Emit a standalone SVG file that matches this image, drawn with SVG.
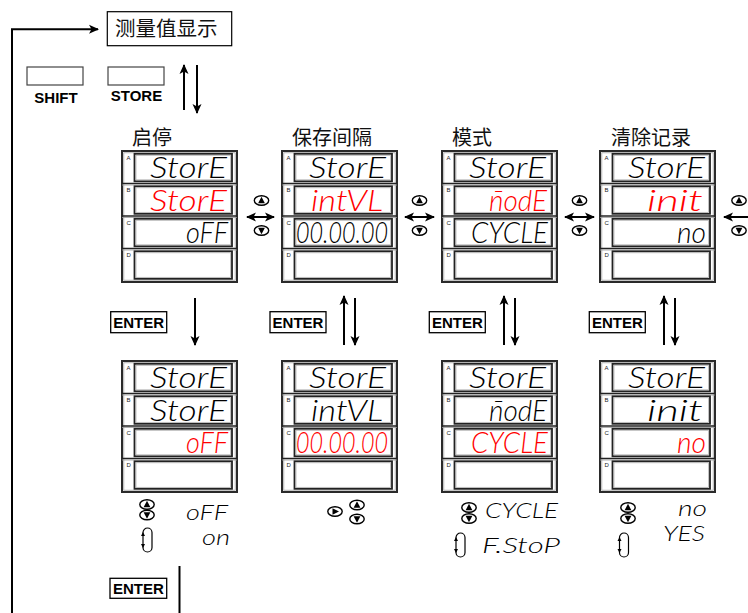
<svg xmlns="http://www.w3.org/2000/svg" xmlns:xlink="http://www.w3.org/1999/xlink" width="748" height="613" viewBox="0 0 748 613">
<style>
.panel{fill:#fff;stroke:#2a2a2a;stroke-width:2}
.pin{fill:none;stroke:#a0a0a0;stroke-width:0.8}
.cell{fill:#fff;stroke:#222;stroke-width:1.8}
.cin{fill:none;stroke:#aaa;stroke-width:0.7}
.sep{stroke:#222;stroke-width:1.6}
.sepg{stroke:#999;stroke-width:0.8}
.lbl{font-family:"Liberation Sans",Arial,sans-serif;font-size:6px;fill:#222}
.seg{font-family:Lato,"DejaVu Sans",sans-serif;font-style:italic;font-weight:300;font-size:29px;text-anchor:end}
.segs{font-family:Lato,"DejaVu Sans",sans-serif;font-style:italic;font-weight:300;font-size:22px}
.red{fill:#ff0000}
.blk{fill:#000}
.title{font-family:"Noto Sans CJK SC",sans-serif;font-size:20px;fill:#111}
.key{font-family:"Liberation Sans",Arial,sans-serif;font-weight:bold;font-size:15px;fill:#000;text-anchor:middle}
.btn{font-family:"Liberation Sans",Arial,sans-serif;font-weight:bold;font-size:15px;fill:#000;text-anchor:middle}
.kbox{fill:#fff;stroke:#000;stroke-width:1.3}
.bbox{fill:#fff;stroke:#444;stroke-width:1.2}
.conn{stroke:#000;stroke-width:2;fill:none}
.sym{fill:#fff;stroke:#000;stroke-width:1.4}
.loop{fill:none;stroke:#000;stroke-width:1.2}
</style>
<defs>
<marker id="ah" viewBox="0 0 10 10" refX="9" refY="5" markerWidth="5" markerHeight="5" orient="auto-start-reverse" markerUnits="strokeWidth">
<path d="M0,0.5 L10,5 L0,9.5 L2.5,5 z" fill="#000"/>
</marker>
<g id="frame">
<rect x="0" y="0" width="115" height="131" class="panel"/>
<rect x="1.8" y="1.8" width="111.4" height="127.4" class="pin"/>
<line x1="0" y1="32.5" x2="115" y2="32.5" class="sep"/>
<line x1="0" y1="34" x2="115" y2="34" class="sepg"/>
<line x1="0" y1="65" x2="115" y2="65" class="sep"/>
<line x1="0" y1="66.5" x2="115" y2="66.5" class="sepg"/>
<line x1="0" y1="97.5" x2="115" y2="97.5" class="sep"/>
<line x1="0" y1="99" x2="115" y2="99" class="sepg"/>
<rect x="12.5" y="2.8" width="97.5" height="27.5" class="cell"/>
<rect x="14" y="4.3" width="94.5" height="24.5" class="cin"/>
<rect x="12.5" y="35.3" width="97.5" height="27.5" class="cell"/>
<rect x="14" y="36.8" width="94.5" height="24.5" class="cin"/>
<rect x="12.5" y="67.8" width="97.5" height="27.5" class="cell"/>
<rect x="14" y="69.3" width="94.5" height="24.5" class="cin"/>
<rect x="12.5" y="100.3" width="97.5" height="27.5" class="cell"/>
<rect x="14" y="101.8" width="94.5" height="24.5" class="cin"/>
<text x="4.5" y="8.5" class="lbl">A</text>
<text x="4.5" y="41" class="lbl">B</text>
<text x="4.5" y="73.5" class="lbl">C</text>
<text x="4.5" y="106" class="lbl">D</text>
</g>
<g id="up"><ellipse cx="0" cy="0" rx="7.2" ry="4.8" class="sym"/><path d="M-3.4,2.8 L0,-3.8 L3.4,2.8 z" fill="#000"/></g>
<g id="dn"><ellipse cx="0" cy="0" rx="7.2" ry="4.8" class="sym"/><path d="M-3.4,-2.8 L0,3.8 L3.4,-2.8 z" fill="#000"/></g>
<g id="rt"><ellipse cx="0" cy="0" rx="7.2" ry="4.8" class="sym"/><path d="M-2.5,-3.3 L4,0 L-2.5,3.3 z" fill="#000"/></g>
<g id="lp"><rect x="-4.5" y="0" width="9" height="24" rx="4.5" class="loop"/><path d="M-6.5,8 L-4.5,4 L-2.5,8 z M-6.5,16 L-4.5,20 L-2.5,16 z" fill="#000"/></g>
</defs>

<g id="connectors">
<path d="M12,613 L12,29.3 L98,29.3" class="conn" marker-end="url(#ah)"/>
<line x1="184" y1="110" x2="184" y2="65" class="conn" marker-end="url(#ah)"/>
<line x1="197" y1="65" x2="197" y2="113" class="conn" marker-end="url(#ah)"/>
<line x1="247" y1="217" x2="274" y2="217" class="conn" marker-start="url(#ah)" marker-end="url(#ah)"/>
<line x1="405" y1="217" x2="434" y2="217" class="conn" marker-start="url(#ah)" marker-end="url(#ah)"/>
<line x1="565" y1="217" x2="594" y2="217" class="conn" marker-start="url(#ah)" marker-end="url(#ah)"/>
<line x1="724" y1="217" x2="760" y2="217" class="conn" marker-start="url(#ah)" marker-end="url(#ah)"/>
<line x1="195" y1="298" x2="195" y2="345" class="conn" marker-end="url(#ah)"/>
<line x1="344" y1="345" x2="344" y2="296" class="conn" marker-end="url(#ah)"/>
<line x1="355" y1="298" x2="355" y2="345" class="conn" marker-end="url(#ah)"/>
<line x1="504" y1="345" x2="504" y2="296" class="conn" marker-end="url(#ah)"/>
<line x1="515" y1="298" x2="515" y2="345" class="conn" marker-end="url(#ah)"/>
<line x1="664" y1="345" x2="664" y2="296" class="conn" marker-end="url(#ah)"/>
<line x1="675" y1="298" x2="675" y2="345" class="conn" marker-end="url(#ah)"/>
<line x1="179.5" y1="566" x2="179.5" y2="613" class="conn"/>
</g>

<g id="measure">
<rect x="107.3" y="11.7" width="124.4" height="34" fill="#fff" stroke="#000" stroke-width="1.2"/>
<text x="115" y="36" font-family="'Noto Sans CJK SC',sans-serif" font-size="20.5" fill="#111">测量值显示</text>
</g>

<g id="btn-shift">
<rect x="27" y="67" width="56" height="18" class="bbox"/>
<text x="56" y="102.5" class="btn">SHIFT</text>
</g>
<g id="btn-store">
<rect x="108" y="67" width="56" height="18" class="bbox"/>
<text x="136.5" y="100.5" class="btn">STORE</text>
</g>

<g id="titles">
<text x="132" y="145" class="title">启停</text>
<text x="292" y="145" class="title">保存间隔</text>
<text x="452" y="145" class="title">模式</text>
<text x="611" y="145" class="title">清除记录</text>
</g>

<g id="nav-syms">
<use xlink:href="#up" x="261.5" y="200.5"/><use xlink:href="#dn" x="261.5" y="230.5"/>
<use xlink:href="#up" x="419.5" y="200.5"/><use xlink:href="#dn" x="419.5" y="230.5"/>
<use xlink:href="#up" x="579.5" y="200.5"/><use xlink:href="#dn" x="579.5" y="230.5"/>
<use xlink:href="#up" x="739" y="200.5"/><use xlink:href="#dn" x="739" y="230.5"/>
</g>

<g id="panel-start" transform="translate(122,151)">
<use xlink:href="#frame"/>
<text x="105" y="27" class="seg blk" textLength="77" lengthAdjust="spacingAndGlyphs">StorE</text>
<text x="105" y="59.5" class="seg red" textLength="77" lengthAdjust="spacingAndGlyphs">StorE</text>
<text x="106" y="92" class="seg blk" textLength="42" lengthAdjust="spacingAndGlyphs">oFF</text>
</g>
<g id="panel-interval" transform="translate(282,151)">
<use xlink:href="#frame"/>
<text x="104" y="27" class="seg blk" textLength="77" lengthAdjust="spacingAndGlyphs">StorE</text>
<text x="101" y="59.5" class="seg red" textLength="72" lengthAdjust="spacingAndGlyphs">intVL</text>
<text x="106" y="92" class="seg blk" textLength="92" lengthAdjust="spacingAndGlyphs">00.00.00</text>
</g>
<g id="panel-mode" transform="translate(442,151)">
<use xlink:href="#frame"/>
<text x="104" y="27" class="seg blk" textLength="77" lengthAdjust="spacingAndGlyphs">StorE</text>
<text x="105" y="59.5" class="seg red" textLength="58" lengthAdjust="spacingAndGlyphs">n̄odE</text>
<text x="106" y="92" class="seg blk" textLength="77" lengthAdjust="spacingAndGlyphs">CYCLE</text>
</g>
<g id="panel-clear" transform="translate(600,151)">
<use xlink:href="#frame"/>
<text x="105" y="27" class="seg blk" textLength="77" lengthAdjust="spacingAndGlyphs">StorE</text>
<text x="103" y="59.5" class="seg red" textLength="56" lengthAdjust="spacingAndGlyphs">init</text>
<text x="106" y="92" class="seg blk" textLength="29" lengthAdjust="spacingAndGlyphs">no</text>
</g>

<g id="enter-1"><rect x="110.7" y="311.7" width="56" height="21" class="kbox"/><text x="138.7" y="328" class="key">ENTER</text></g>
<g id="enter-2"><rect x="270" y="311.7" width="56" height="21" class="kbox"/><text x="298" y="328" class="key">ENTER</text></g>
<g id="enter-3"><rect x="429.3" y="311.7" width="56" height="21" class="kbox"/><text x="457.3" y="328" class="key">ENTER</text></g>
<g id="enter-4"><rect x="589.3" y="311.7" width="56" height="21" class="kbox"/><text x="617.3" y="328" class="key">ENTER</text></g>

<g id="panel-start-edit" transform="translate(122,361)">
<use xlink:href="#frame"/>
<text x="105" y="27" class="seg blk" textLength="77" lengthAdjust="spacingAndGlyphs">StorE</text>
<text x="105" y="59.5" class="seg blk" textLength="77" lengthAdjust="spacingAndGlyphs">StorE</text>
<text x="106" y="92" class="seg red" textLength="42" lengthAdjust="spacingAndGlyphs">oFF</text>
</g>
<g id="panel-interval-edit" transform="translate(282,361)">
<use xlink:href="#frame"/>
<text x="104" y="27" class="seg blk" textLength="77" lengthAdjust="spacingAndGlyphs">StorE</text>
<text x="101" y="59.5" class="seg blk" textLength="72" lengthAdjust="spacingAndGlyphs">intVL</text>
<text x="106" y="92" class="seg red" textLength="92" lengthAdjust="spacingAndGlyphs">00.00.00</text>
</g>
<g id="panel-mode-edit" transform="translate(442,361)">
<use xlink:href="#frame"/>
<text x="104" y="27" class="seg blk" textLength="77" lengthAdjust="spacingAndGlyphs">StorE</text>
<text x="105" y="59.5" class="seg blk" textLength="58" lengthAdjust="spacingAndGlyphs">n̄odE</text>
<text x="106" y="92" class="seg red" textLength="77" lengthAdjust="spacingAndGlyphs">CYCLE</text>
</g>
<g id="panel-clear-edit" transform="translate(600,361)">
<use xlink:href="#frame"/>
<text x="105" y="27" class="seg blk" textLength="77" lengthAdjust="spacingAndGlyphs">StorE</text>
<text x="103" y="59.5" class="seg blk" textLength="56" lengthAdjust="spacingAndGlyphs">init</text>
<text x="106" y="92" class="seg red" textLength="29" lengthAdjust="spacingAndGlyphs">no</text>
</g>

<g id="opts-start">
<use xlink:href="#up" x="147" y="504.5"/><use xlink:href="#dn" x="147" y="515"/>
<use xlink:href="#lp" x="147.5" y="528"/>
<text x="186" y="520" class="segs blk" font-size="20" textLength="42" lengthAdjust="spacingAndGlyphs">oFF</text>
<text x="202" y="545" class="segs blk" font-size="18" textLength="28" lengthAdjust="spacingAndGlyphs">on</text>
</g>
<g id="opts-interval">
<use xlink:href="#rt" x="335" y="511.5"/>
<use xlink:href="#up" x="357" y="505"/><use xlink:href="#dn" x="357" y="519"/>
</g>
<g id="opts-mode">
<use xlink:href="#up" x="469" y="507.5"/><use xlink:href="#dn" x="469" y="518.5"/>
<use xlink:href="#lp" x="460.5" y="533"/>
<text x="485" y="518" class="segs blk" textLength="73" lengthAdjust="spacingAndGlyphs">CYCLE</text>
<text x="482" y="553" class="segs blk" textLength="78" lengthAdjust="spacingAndGlyphs">F.StoP</text>
</g>
<g id="opts-clear">
<use xlink:href="#up" x="628" y="507.5"/><use xlink:href="#dn" x="628" y="518.5"/>
<use xlink:href="#lp" x="624" y="533"/>
<text x="678" y="516" class="segs blk" font-size="18" textLength="29" lengthAdjust="spacingAndGlyphs">no</text>
<text x="663" y="540.5" class="segs blk" font-size="20" textLength="42" lengthAdjust="spacingAndGlyphs">YES</text>
</g>

<g id="enter-5"><rect x="110" y="578.3" width="56.7" height="20" class="kbox"/><text x="138.3" y="594" class="key">ENTER</text></g>
</svg>
